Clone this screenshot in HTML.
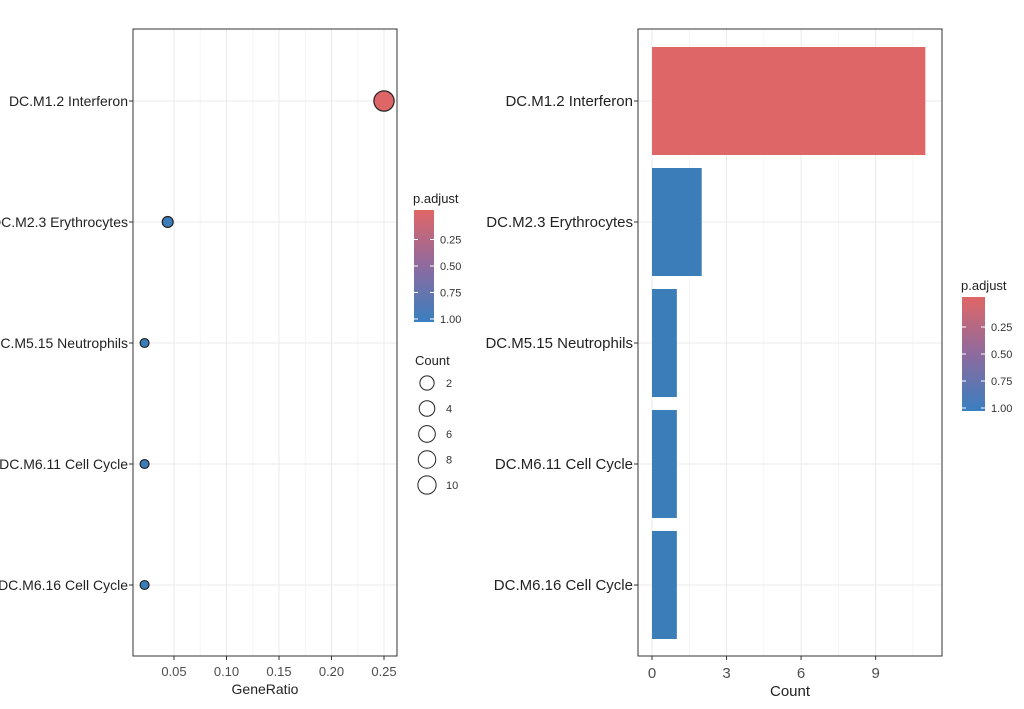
<!DOCTYPE html>
<html><head><meta charset="utf-8"><style>
body{margin:0;background:#fff;width:1024px;height:704px;overflow:hidden}
svg text{font-family:"Liberation Sans",sans-serif}
</style></head><body>
<svg id="c" width="1024" height="704" xmlns="http://www.w3.org/2000/svg">
<defs><linearGradient id="g" x1="0" y1="0" x2="0" y2="1"><stop offset="0" stop-color="#e06666"/><stop offset="0.5" stop-color="#8e6a9e"/><stop offset="1" stop-color="#3a7fc0"/></linearGradient></defs>
</svg>
<script>
const categories=["DC.M1.2 Interferon","DC.M2.3 Erythrocytes","DC.M5.15 Neutrophils","DC.M6.11 Cell Cycle","DC.M6.16 Cell Cycle"];
const geneRatio=[0.25,0.044,0.022,0.022,0.022];
const counts=[11,2,1,1,1];
const padj=[0.01,1,1,1,1];
const ratioTicks=[0.05,0.10,0.15,0.20,0.25];
const countTicks=[0,3,6,9];
const padjTicks=[0.25,0.50,0.75,1.00];
const sizeLegend=[2,4,6,8,10];
const svg=document.getElementById('c');
const NS='http://www.w3.org/2000/svg';
function mk(t,a,p){const e=document.createElementNS(NS,t);for(const k in a)e.setAttribute(k,a[k]);(p||svg).appendChild(e);return e;}
function col(p){const r=[224,102,102],b=[58,125,185];const t=Math.min(1,Math.max(0,p));return `rgb(${r.map((v,i)=>Math.round(v+(b[i]-v)*t)).join(',')})`;}
const yRow=i=>101+i*121;
const L={x0:133,x1:397,y0:29,y1:656};
const xL=v=>174+(v-0.05)*1050;
const gl=mk('g',{});


ratioTicks.forEach((t,i)=>{mk('line',{x1:xL(t),x2:xL(t),y1:L.y0,y2:L.y1,stroke:'#ebebeb'},gl);
 if(i<ratioTicks.length-1)mk('line',{x1:xL(t+0.025),x2:xL(t+0.025),y1:L.y0,y2:L.y1,stroke:'#f5f5f5'},gl);
 mk('line',{x1:xL(t),x2:xL(t),y1:L.y1,y2:L.y1+4,stroke:'#333'},gl);
 const tx=mk('text',{x:xL(t),y:L.y1+20,'text-anchor':'middle','font-size':13,fill:'#4d4d4d'},gl);tx.textContent=t.toFixed(2);
 });
categories.forEach((c,i)=>{mk('line',{x1:L.x0,x2:L.x1,y1:yRow(i),y2:yRow(i),stroke:'#ebebeb'},gl);
 mk('line',{x1:L.x0-4,x2:L.x0,y1:yRow(i),y2:yRow(i),stroke:'#333'},gl);
 const tx=mk('text',{x:L.x0-5,y:yRow(i)+5,'text-anchor':'end','font-size':14,fill:'#222'},gl);tx.textContent=c;
 });
mk('rect',{x:L.x0,y:L.y0,width:L.x1-L.x0,height:L.y1-L.y0,fill:'none',stroke:'#333'},gl);
const rS=n=>2+Math.sqrt(n)*2.45;
categories.forEach((c,i)=>{const d=mk('circle',{cx:xL(geneRatio[i]),cy:yRow(i),r:rS(counts[i]),fill:col(padj[i]),stroke:'#222','stroke-width':1.2},gl);
 });
let t=mk('text',{x:265,y:694,'text-anchor':'middle','font-size':14,fill:'#222'});t.textContent='GeneRatio';

function colorbar(x,y,w,h,tx,ty){const g=mk('g',{});
 
 const ti=mk('text',{x:tx,y:ty,'font-size':13,fill:'#222'},g);ti.textContent='p.adjust';
 mk('rect',{x:x,y:y,width:w,height:h,fill:'url(#g)'},g);
 padjTicks.forEach(p=>{
  const py=y+h*p*(h-6)/h+3;
  mk('line',{x1:x,x2:x+4,y1:py,y2:py,stroke:'#fff'},g);mk('line',{x1:x+w-4,x2:x+w,y1:py,y2:py,stroke:'#fff'},g);
  const l=mk('text',{x:x+w+6,y:py+4,'font-size':11,fill:'#333'},g);l.textContent=p.toFixed(2);});}
colorbar(414,210,20,112,413,203);
let ct=mk('text',{x:415,y:365,'font-size':13,fill:'#222'});ct.textContent='Count';

sizeLegend.forEach((s,i)=>{const cy=383+i*25.5;
 const c=mk('circle',{cx:427,cy:cy,r:5.5+Math.sqrt(s)*1.15,fill:'none',stroke:'#222'});
 
 const l=mk('text',{x:446,y:cy+4,'font-size':11,fill:'#333'});l.textContent=s;});
const R={x0:638,x1:942,y0:29,y1:656};
const xR=v=>652+v*24.85;
const gr=mk('g',{});


countTicks.forEach((tk,i)=>{mk('line',{x1:xR(tk),x2:xR(tk),y1:R.y0,y2:R.y1,stroke:'#ebebeb'},gr);
 mk('line',{x1:xR(tk+1.5),x2:xR(tk+1.5),y1:R.y0,y2:R.y1,stroke:'#f5f5f5'},gr);
 mk('line',{x1:xR(tk),x2:xR(tk),y1:R.y1,y2:R.y1+4,stroke:'#333'},gr);
 const tx=mk('text',{x:xR(tk),y:R.y1+22,'text-anchor':'middle','font-size':15,fill:'#4d4d4d'},gr);tx.textContent=tk;
 });
categories.forEach((c,i)=>{mk('line',{x1:R.x0,x2:R.x1,y1:yRow(i),y2:yRow(i),stroke:'#ebebeb'},gr);
 mk('line',{x1:R.x0-4,x2:R.x0,y1:yRow(i),y2:yRow(i),stroke:'#333'},gr);
 const b=mk('rect',{x:xR(0),y:yRow(i)-54,width:xR(counts[i])-xR(0),height:108,fill:col(padj[i])},gr);
 
 const tx=mk('text',{x:R.x0-5,y:yRow(i)+5,'text-anchor':'end','font-size':15,fill:'#222'},gr);tx.textContent=c;
 });
mk('rect',{x:R.x0,y:R.y0,width:R.x1-R.x0,height:R.y1-R.y0,fill:'none',stroke:'#333'},gr);
t=mk('text',{x:790,y:696,'text-anchor':'middle','font-size':15,fill:'#222'});t.textContent='Count';

colorbar(962,297,23,114,961,290);
</script>
</body></html>
